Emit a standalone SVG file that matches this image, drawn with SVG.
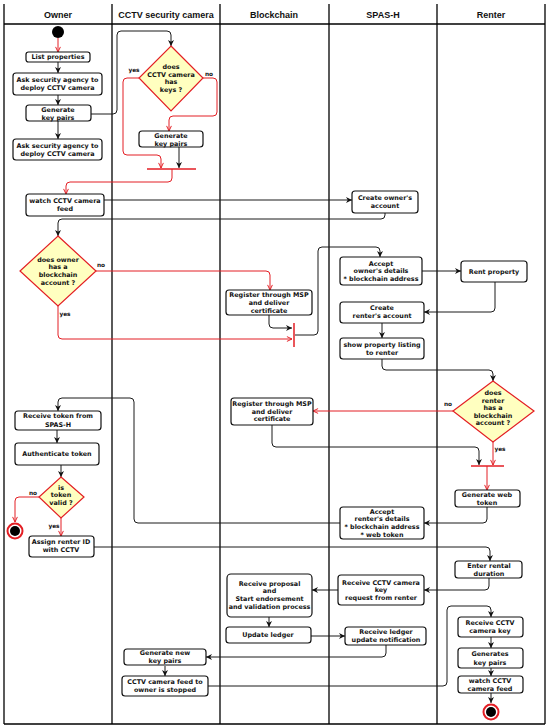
<svg xmlns="http://www.w3.org/2000/svg" width="550" height="728" viewBox="0 0 550 728">
<style>
.lane{stroke:#000;stroke-width:1.3;fill:none}
.hd{font-family:"Liberation Sans",Arial,sans-serif;font-weight:bold;font-size:9px;text-anchor:middle;fill:#111}
.n rect{fill:#fff;stroke:#111;stroke-width:1.2}
.d polygon{fill:#ffffc0;stroke:#e31e24;stroke-width:1.2}
.t{font-family:"DejaVu Sans",sans-serif;font-weight:bold;font-size:6.4px;text-anchor:middle;fill:#111}
.lb{font-family:"DejaVu Sans",sans-serif;font-weight:bold;font-size:5.8px;text-anchor:middle;fill:#111}
.c{fill:none;stroke:#1a1a1a;stroke-width:1;marker-end:url(#ab)}
.r{fill:none;stroke:#e31e24;stroke-width:1;marker-end:url(#ar)}
.bar{stroke:#e31e24;stroke-width:1.5}
</style>
<defs>
<marker id="ab" viewBox="0 0 10 10" refX="10" refY="5" markerWidth="6" markerHeight="6" markerUnits="userSpaceOnUse" orient="auto"><path d="M0,0 L10,5 L0,10 L3,5 z" fill="#111"/></marker>
<marker id="ar" viewBox="0 0 10 10" refX="9.5" refY="5" markerWidth="6" markerHeight="6" markerUnits="userSpaceOnUse" orient="auto"><path d="M1,1 L9.5,5 L1,9" fill="none" stroke="#e31e24" stroke-width="1.6"/></marker>
</defs>
<rect width="550" height="728" fill="#fff"/>
<g id="lanes">
<line class="lane" x1="4" y1="4" x2="4" y2="724"/>
<line class="lane" x1="112" y1="4" x2="112" y2="724"/>
<line class="lane" x1="220" y1="4" x2="220" y2="724"/>
<line class="lane" x1="329" y1="4" x2="329" y2="724"/>
<line class="lane" x1="437" y1="4" x2="437" y2="724"/>
<line class="lane" x1="545" y1="4" x2="545" y2="724"/>
<line class="lane" x1="4" y1="24" x2="545" y2="24"/>
<line class="lane" x1="4" y1="724" x2="545" y2="724"/>
<text class="hd" x="58" y="18">Owner</text>
<text class="hd" x="166" y="18">CCTV security camera</text>
<text class="hd" x="274" y="18">Blockchain</text>
<text class="hd" x="383" y="18">SPAS-H</text>
<text class="hd" x="491" y="18">Renter</text>
</g>
<g id="connectors">
<path class="r" d="M58,38 V52"/>
<path class="c" d="M58,62 V73"/>
<path class="c" d="M58,95 V105"/>
<path class="c" d="M58,121 V139"/>
<path class="c" d="M91,114 H113 Q117,114 117,110 V35 Q117,31 121,31 H167 Q171,31 171,35 V46"/>
<path class="r" d="M139,78 H127 Q123,78 123,82 V151 Q123,155 127,155 H157 Q161,155 161,159 V168"/>
<path class="r" d="M203,78 H213 Q217,78 217,82 V112 Q217,116 213,116 H173 Q169,116 169,120 V131"/>
<path class="c" d="M179,147 V168"/>
<line class="bar" x1="147" y1="169" x2="196" y2="169"/>
<path class="r" d="M172,169 V178 Q172,182 168,182 H70 Q66,182 66,186 V194"/>
<path class="c" d="M104,200 H352"/>
<path class="c" d="M385,213 V215 Q385,219 381,219 H62 Q58,219 58,223 V236"/>
<path class="r" d="M96,271 H266 Q270,271 270,275 V290"/>
<path class="r" d="M58,306 V335 Q58,339 62,339 H292"/>
<path class="c" d="M269,315 V324 Q269,328 273,328 H292"/>
<line class="bar" x1="294" y1="323" x2="294" y2="347"/>
<path class="c" d="M295,335 H314 Q318,335 318,331 V251 Q318,247 322,247 H376 Q380,247 380,251 V257"/>
<path class="c" d="M422,271 H461"/>
<path class="c" d="M495,282 V308 Q495,312 491,312 H424"/>
<path class="c" d="M382,323 V338"/>
<path class="c" d="M382,359 V366 Q382,370 386,370 H489 Q493,370 493,374 V381"/>
<path class="r" d="M453,411 H313"/>
<path class="c" d="M272,425 V443 Q272,447 276,447 H475 Q479,447 479,451 V465"/>
<path class="r" d="M493,442 V465"/>
<line class="bar" x1="471" y1="466" x2="504" y2="466"/>
<path class="r" d="M487,466 V490"/>
<path class="c" d="M487,507 V519 Q487,523 483,523 H424"/>
<path class="c" d="M340,523 H138 Q134,523 134,519 V402 Q134,398 130,398 H62 Q58,398 58,402 V411"/>
<path class="c" d="M57,430 V443"/>
<path class="c" d="M61,465 V477"/>
<path class="r" d="M39,497 H19 Q15,497 15,501 V522"/>
<path class="r" d="M61,518 V536"/>
<path class="c" d="M94,547 H486 Q490,547 490,551 V561"/>
<path class="c" d="M489,578 V586 Q489,590 485,590 H424"/>
<path class="c" d="M338,590 H312"/>
<path class="c" d="M269,617 V627"/>
<path class="c" d="M311,636 H345"/>
<path class="c" d="M386,645 V653 Q386,657 382,657 H206"/>
<path class="c" d="M165,666 V676"/>
<path class="c" d="M208,686 H443 Q447,686 447,682 V610 Q447,606 451,606 H487 Q491,606 491,610 V617"/>
<path class="c" d="M491,637 V648"/>
<path class="c" d="M491,668 V676"/>
<path class="c" d="M491,693 V703"/>
<text class="lb" x="134" y="72">yes</text>
<text class="lb" x="209" y="76">no</text>
<text class="lb" x="101" y="267">no</text>
<text class="lb" x="65" y="316">yes</text>
<text class="lb" x="448" y="406">no</text>
<text class="lb" x="500" y="451">yes</text>
<text class="lb" x="33" y="495">no</text>
<text class="lb" x="54" y="528">yes</text>
</g>
<g id="start"><circle cx="58" cy="32" r="6" fill="#000"/></g>
<g id="end1"><circle cx="15" cy="531" r="7.5" fill="#fff" stroke="#e31e24" stroke-width="2"/><circle cx="15" cy="531" r="5" fill="#000"/></g>
<g id="end2"><circle cx="491" cy="712" r="7.5" fill="#fff" stroke="#e31e24" stroke-width="2"/><circle cx="491" cy="712" r="5" fill="#000"/></g>
<g id="n1" class="n"><rect x="26" y="52" width="64" height="10" rx="2.5"/><text class="t" x="58" y="59.3">List properties</text></g>
<g id="n2" class="n"><rect x="13" y="73" width="89" height="22" rx="3"/><text class="t" x="57.5" y="82.3">Ask security agency to</text><text class="t" x="57.5" y="90.3">deploy CCTV camera</text></g>
<g id="n3" class="n"><rect x="26" y="105" width="65" height="16" rx="3"/><text class="t" x="58" y="112.3">Generate</text><text class="t" x="58" y="120">key pairs</text></g>
<g id="n4" class="n"><rect x="13" y="139" width="89" height="21" rx="3"/><text class="t" x="57.5" y="147.8">Ask security agency to</text><text class="t" x="57.5" y="155.8">deploy CCTV camera</text></g>
<g id="d1" class="d"><polygon points="171,46 203,78 171,111 139,78"/><text class="t" x="171" y="69.3">does</text><text class="t" x="171" y="76.8">CCTV camera</text><text class="t" x="171" y="84.3">has</text><text class="t" x="171" y="92.3">keys ?</text></g>
<g id="n5" class="n"><rect x="139" y="131" width="64" height="16" rx="3"/><text class="t" x="171" y="137.8">Generate</text><text class="t" x="171" y="145.6">key pairs</text></g>
<g id="n6" class="n"><rect x="26" y="194" width="78" height="22" rx="3"/><text class="t" x="65" y="203">watch CCTV camera</text><text class="t" x="65" y="211.3">feed</text></g>
<g id="n7" class="n"><rect x="352" y="191" width="66" height="22" rx="3"/><text class="t" x="385" y="199.8">Create owner's</text><text class="t" x="385" y="208.3">account</text></g>
<g id="d2" class="d"><polygon points="58,236 96,271 58,306 20,271"/><text class="t" x="58" y="261.8">does owner</text><text class="t" x="58" y="269.3">has a</text><text class="t" x="58" y="277.3">blockchain</text><text class="t" x="58" y="285.3">account ?</text></g>
<g id="n8" class="n"><rect x="226" y="290" width="86" height="25" rx="3"/><text class="t" x="269" y="297.3">Register through MSP</text><text class="t" x="269" y="305.3">and deliver</text><text class="t" x="269" y="312.8">certificate</text></g>
<g id="n9" class="n"><rect x="340" y="257" width="82" height="28" rx="3"/><text class="t" x="381" y="265.8">Accept</text><text class="t" x="381" y="273.3">owner's details</text><text class="t" x="381" y="281.3">* blockchain address</text></g>
<g id="n10" class="n"><rect x="461" y="261" width="66" height="21" rx="3"/><text class="t" x="494" y="273.8">Rent property</text></g>
<g id="n11" class="n"><rect x="340" y="302" width="84" height="21" rx="3"/><text class="t" x="382" y="310.3">Create</text><text class="t" x="382" y="318.3">renter's account</text></g>
<g id="n12" class="n"><rect x="340" y="338" width="84" height="21" rx="3"/><text class="t" x="382" y="347.3">show property listing</text><text class="t" x="382" y="355.3">to renter</text></g>
<g id="d3" class="d"><polygon points="493,381 534,411 493,442 453,411"/><text class="t" x="493" y="395.3">does</text><text class="t" x="493" y="402.8">renter</text><text class="t" x="493" y="410.3">has a</text><text class="t" x="493" y="417.8">blockchain</text><text class="t" x="493" y="425.3">account ?</text></g>
<g id="n13" class="n"><rect x="231" y="398" width="82" height="27" rx="3"/><text class="t" x="272" y="405.8">Register through MSP</text><text class="t" x="272" y="413.8">and deliver</text><text class="t" x="272" y="421.3">certificate</text></g>
<g id="n14" class="n"><rect x="455" y="490" width="65" height="17" rx="3"/><text class="t" x="487" y="496.8">Generate web</text><text class="t" x="487" y="504.8">token</text></g>
<g id="n15" class="n"><rect x="340" y="507" width="84" height="32" rx="3"/><text class="t" x="382" y="513.8">Accept</text><text class="t" x="382" y="521.3">renter's details</text><text class="t" x="382" y="529.3">* blockchain address</text><text class="t" x="382" y="536.8">* web token</text></g>
<g id="n16" class="n"><rect x="15" y="411" width="86" height="19" rx="3"/><text class="t" x="58" y="418.3">Receive token from</text><text class="t" x="58" y="426.8">SPAS-H</text></g>
<g id="n17" class="n"><rect x="15" y="443" width="84" height="22" rx="3"/><text class="t" x="57" y="456.3">Authenticate token</text></g>
<g id="d4" class="d"><polygon points="61,477 84,497 61,518 39,497"/><text class="t" x="61" y="489.8">is</text><text class="t" x="61" y="497.3">token</text><text class="t" x="61" y="505.3">valid ?</text></g>
<g id="n18" class="n"><rect x="29" y="536" width="65" height="21" rx="3"/><text class="t" x="61" y="544.3">Assign renter ID</text><text class="t" x="61" y="552.3">with CCTV</text></g>
<g id="n19" class="n"><rect x="455" y="561" width="67" height="17" rx="3"/><text class="t" x="489" y="567.8">Enter rental</text><text class="t" x="489" y="575.8">duration</text></g>
<g id="n20" class="n"><rect x="338" y="575" width="86" height="30" rx="3"/><text class="t" x="381" y="584.8">Receive CCTV camera</text><text class="t" x="381" y="592.3">key</text><text class="t" x="381" y="600.3">request from renter</text></g>
<g id="n21" class="n"><rect x="227" y="574" width="85" height="43" rx="4"/><text class="t" x="269.5" y="585.8">Receive proposal</text><text class="t" x="269.5" y="593.3">and</text><text class="t" x="269.5" y="601.3">Start endorsement</text><text class="t" x="269.5" y="609.3">and validation process</text></g>
<g id="n22" class="n"><rect x="226" y="627" width="85" height="16" rx="3"/><text class="t" x="268" y="637.3">Update ledger</text></g>
<g id="n23" class="n"><rect x="345" y="627" width="81" height="18" rx="3"/><text class="t" x="386" y="633.8">Receive ledger</text><text class="t" x="386" y="641.8">update notification</text></g>
<g id="n24" class="n"><rect x="124" y="649" width="82" height="16" rx="3"/><text class="t" x="165" y="655.3">Generate new</text><text class="t" x="165" y="663.3">key pairs</text></g>
<g id="n25" class="n"><rect x="122" y="676" width="86" height="20" rx="3"/><text class="t" x="165" y="683.8">CCTV camera feed to</text><text class="t" x="165" y="692.3">owner is stopped</text></g>
<g id="n26" class="n"><rect x="458" y="617" width="65" height="20" rx="3"/><text class="t" x="490" y="624.8">Receive CCTV</text><text class="t" x="490" y="633.3">camera  key</text></g>
<g id="n27" class="n"><rect x="458" y="648" width="65" height="20" rx="3"/><text class="t" x="490" y="656.3">Generates</text><text class="t" x="490" y="664.8">key pairs</text></g>
<g id="n28" class="n"><rect x="458" y="676" width="65" height="17" rx="3"/><text class="t" x="490" y="682.8">watch CCTV</text><text class="t" x="490" y="690.8">camera feed</text></g>
</svg>
